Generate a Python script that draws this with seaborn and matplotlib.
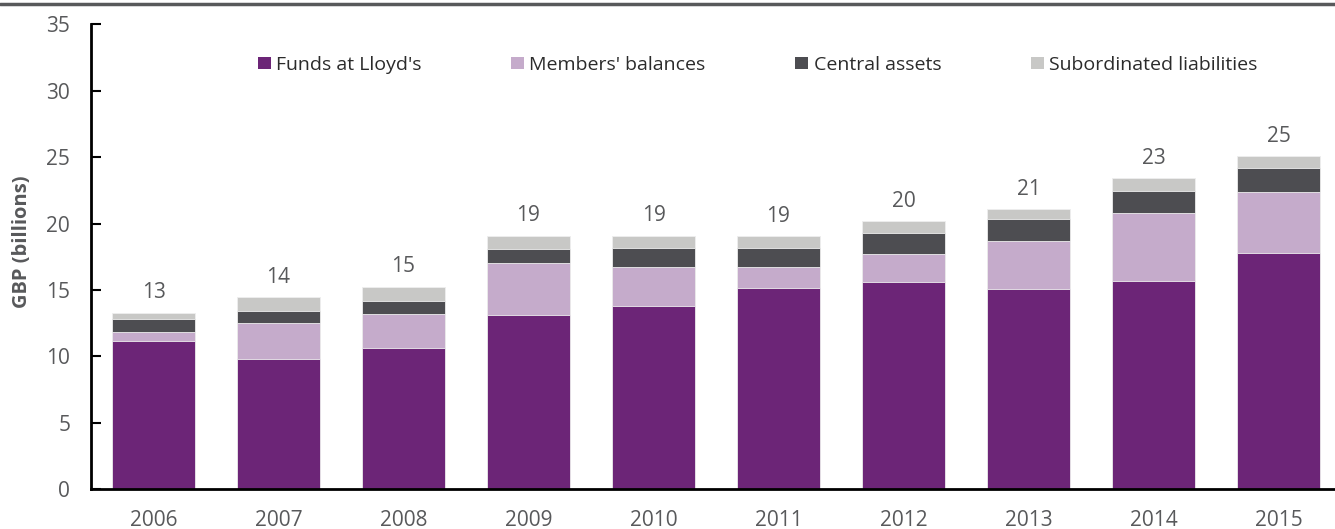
import numpy as np
import pandas as pd
import matplotlib
matplotlib.use("Agg")
import matplotlib.pyplot as plt
from matplotlib.patches import Patch
from matplotlib.lines import Line2D
import seaborn as sns

years = ["2006", "2007", "2008", "2009", "2010", "2011", "2012", "2013", "2014", "2015"]
funds_at_lloyds = [11.2, 9.8, 10.6, 13.1, 13.8, 15.15, 15.6, 15.05, 15.7, 17.8]
members_balances = [0.65, 2.7, 2.6, 3.9, 2.9, 1.55, 2.1, 3.65, 5.1, 4.6]
central_assets = [0.95, 0.95, 0.95, 1.1, 1.45, 1.45, 1.6, 1.65, 1.65, 1.75]
subordinated_liabilities = [0.5, 1.0, 1.1, 1.0, 0.95, 0.9, 0.9, 0.75, 0.95, 0.9]

series_names = ["Funds at Lloyd's", "Members' balances", "Central assets", "Subordinated liabilities"]
series_colors = ["#6C2577", "#C5ABCB", "#4D4D51", "#C8C8C6"]
series_values = [funds_at_lloyds, members_balances, central_assets, subordinated_liabilities]

sns.set_theme(style="white")
plt.rcParams["font.family"] = ["Open Sans", "DejaVu Sans"]
text_color = "#58595B"

fig = plt.figure(figsize=(13.35, 5.29), dpi=100)
W, H = 1335, 529
ax = fig.add_axes([91 / W, (H - 489.3) / H, 1250 / W, 465 / H])

# stacked bars: draw cumulative totals from the top layer down
cum = np.cumsum(np.array(series_values), axis=0)
for i in range(len(series_values) - 1, -1, -1):
    df = pd.DataFrame({"year": years, "value": cum[i]})
    sns.barplot(data=df, x="year", y="value", color=series_colors[i], saturation=1,
                width=0.67, edgecolor="#EEEEEE", linewidth=0.6, ax=ax)

totals = cum[-1]
for k, t in enumerate(totals):
    ax.text(k, t + 0.7, f"{t:.0f}", ha="center", va="bottom", fontsize=15, color=text_color)

ax.set_ylim(0, 35)
ax.set_xlim(-0.5, 9.5)
ax.set_yticks(np.arange(0, 36, 5))
ax.set_xticks(np.arange(len(years)))
ax.set_xticklabels(years)
ax.set_xticks(np.arange(-0.5, 10, 1), minor=True)
ax.tick_params(axis="x", which="major", length=0, pad=15, labelsize=15, labelcolor=text_color)
ax.tick_params(axis="x", which="minor", direction="in", length=7, width=1.5, color="black")
ax.tick_params(axis="y", direction="in", length=7, width=1.5, color="black", left=True,
               pad=15, labelsize=15, labelcolor=text_color)
ax.set_xlabel("")
ax.set_ylabel("GBP (billions)", fontsize=14.5, fontweight="bold", color=text_color)
ax.yaxis.set_label_coords(-0.047, 0.533)

for side in ["top", "right"]:
    ax.spines[side].set_visible(False)
for side in ["left", "bottom"]:
    ax.spines[side].set_color("black")
    ax.spines[side].set_linewidth(2)

handles = [Patch(facecolor=c, edgecolor="none") for c in series_colors]
leg = ax.legend(handles, series_names, ncol=4, loc="center left",
                bbox_to_anchor=(0.127, 0.9125), frameon=False,
                fontsize=14, handlelength=0.67, handleheight=0.62, handletextpad=0.28,
                columnspacing=4.6, borderaxespad=0)
for t in leg.get_texts():
    t.set_color("#2B2B2B")

fig.add_artist(Line2D([0, 1], [1 - 4 / H, 1 - 4 / H], color="#58595B", linewidth=2.5))

fig.savefig("out.png", dpi=100)
